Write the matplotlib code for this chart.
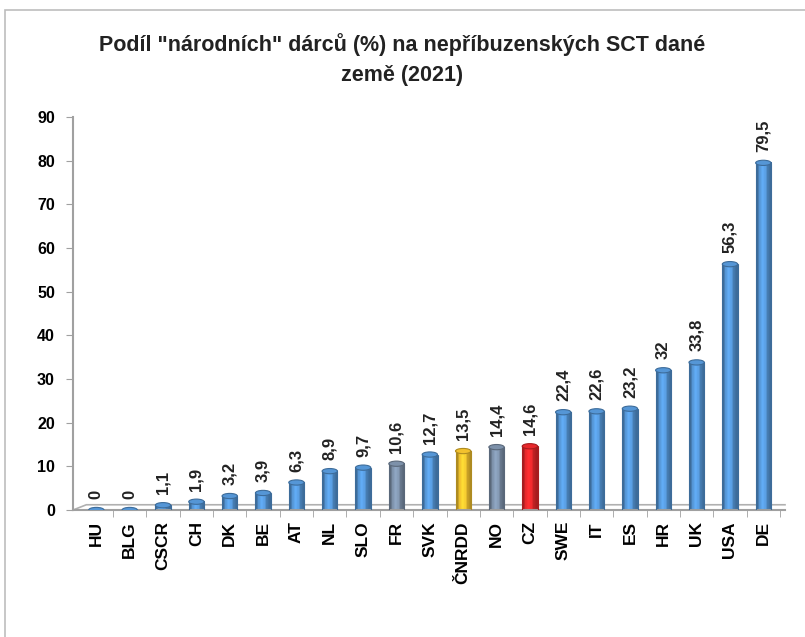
import numpy as np
import matplotlib.pyplot as plt
import matplotlib.colors as mcolors
from matplotlib.patches import Rectangle, Ellipse

# Chart data
countries = ['HU', 'BLG', 'CSCR', 'CH', 'DK', 'BE', 'AT', 'NL', 'SLO', 'FR', 'SVK',
             'ČNRDD', 'NO', 'CZ', 'SWE', 'IT', 'ES', 'HR', 'UK', 'USA', 'DE']
values = [0, 0, 1.1, 1.9, 3.2, 3.9, 6.3, 8.9, 9.7, 10.6, 12.7,
          13.5, 14.4, 14.6, 22.4, 22.6, 23.2, 32, 33.8, 56.3, 79.5]
value_labels = ['0', '0', '1,1', '1,9', '3,2', '3,9', '6,3', '8,9', '9,7', '10,6', '12,7',
                '13,5', '14,4', '14,6', '22,4', '22,6', '23,2', '32', '33,8', '56,3', '79,5']
highlight = {'FR': '#7d91aa', 'NO': '#7d91aa', 'ČNRDD': '#f2c12e', 'CZ': '#e8282b'}
base_color = '#5596d6'
y_ticks = list(range(0, 100, 10))

plt.rcParams['font.family'] = ['Liberation Sans', 'DejaVu Sans']

fig = plt.figure(figsize=(8.05, 6.37), dpi=100)
fig.patches.append(Rectangle((5 / 805, -0.1), 1.1, 1 - 10 / 637 + 0.1,
                             transform=fig.transFigure, fill=False,
                             edgecolor='#bdbdbd', linewidth=1.2))

ax = fig.add_axes([73 / 805, 1 - 510 / 637, (785 - 73) / 805, (510 - 117) / 637])

x = np.arange(len(countries))
width = 0.46
for xi, name, v, lab in zip(x, countries, values, value_labels):
    col = highlight.get(name, base_color)
    dark = np.array(mcolors.to_rgb(col)) * 0.72
    light = np.clip(np.array(mcolors.to_rgb(col)) * 1.15, 0, 1)
    # shaded cylinder body
    grad = np.array([0.0, 0.35, 0.6, 0.45, 0.1, 0.0])
    cmap = mcolors.LinearSegmentedColormap.from_list('c', [dark, col, light])
    if v > 0:
        ax.imshow(grad[np.newaxis, :], aspect='auto', cmap=cmap, vmin=0, vmax=0.6,
                  extent=(xi - width / 2, xi + width / 2, 0, v), zorder=2)
        ax.add_patch(Rectangle((xi - width / 2, 0), width, v, fill=False,
                               edgecolor=dark, linewidth=0.8, zorder=3))
    ax.add_patch(Ellipse((xi, v), width, 1.2, facecolor=col, edgecolor=dark,
                         linewidth=0.8, zorder=4))
    ax.text(xi, v + 2.5, lab, rotation=90, ha='center', va='bottom',
            fontsize=12, fontweight='bold', color='#222222')

ax.set_xlim(-0.7, 20.65)
ax.set_ylim(0, 90)
ax.set_yticks(y_ticks)
ax.set_xticks(x)
ax.set_xticklabels(countries, rotation=90, fontsize=12.5, fontweight='bold')
for t in ax.get_yticklabels():
    t.set_fontweight('bold')
    t.set_fontsize(11.5)
ax.set_xticks(x + 0.5, minor=True)
ax.tick_params(axis='x', which='major', length=0, pad=8)
ax.tick_params(axis='x', which='minor', length=5, color='#a0a0a0')
ax.tick_params(axis='y', length=5, color='#a0a0a0', pad=8)
for s in ['top', 'right']:
    ax.spines[s].set_visible(False)
ax.spines['left'].set_color('#a0a0a0')
ax.spines['bottom'].set_color('#a0a0a0')
ax.spines['left'].set_linewidth(1.5)
ax.spines['bottom'].set_linewidth(1.5)
ax.plot([-0.7, -0.3, 20.65], [0, 1.2, 1.2], color='#b0b0b0', linewidth=1.2,
        clip_on=False, zorder=1)

fig.text(0.5, 1 - 45 / 637, 'Podíl "národních" dárců (%) na nepříbuzenských SCT dané',
         ha='center', va='center', fontsize=15.5, fontweight='bold', color='#222222')
fig.text(0.5, 1 - 76 / 637, 'země (2021)', ha='center', va='center',
         fontsize=15.5, fontweight='bold', color='#222222')

fig.savefig('out.png', dpi=100)
